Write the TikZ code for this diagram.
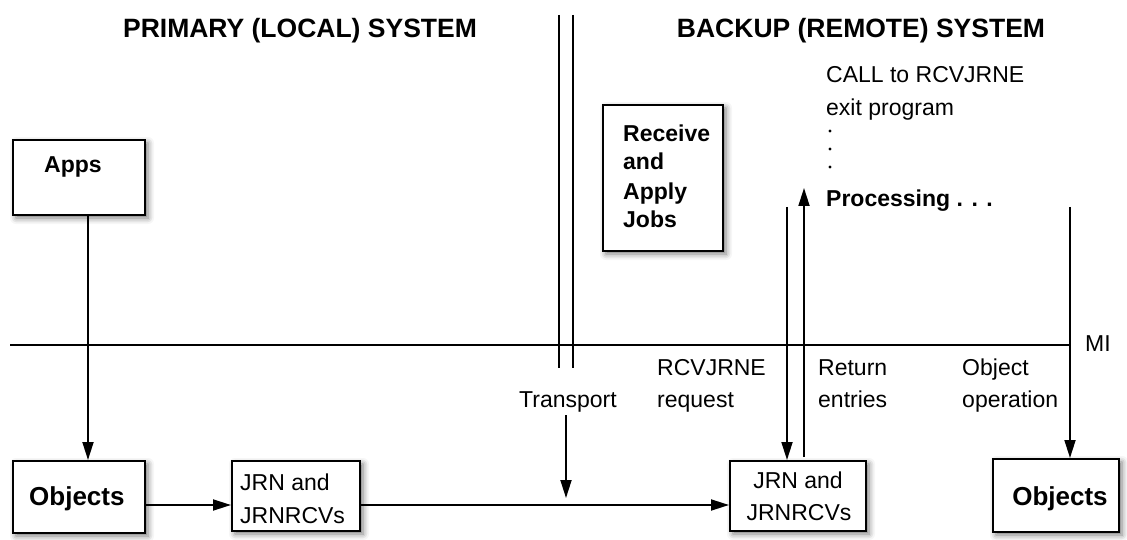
\documentclass[tikz,border=0pt]{standalone}
\usepackage{fontspec}
\setmainfont{Liberation Sans}
\usetikzlibrary{arrows.meta,shadows.blur}
\begin{document}
\begin{tikzpicture}[x=1pt,y=-1pt,
 box/.style={draw=black,line width=2pt,fill=white,inner sep=0pt,
   blur shadow={shadow xshift=3pt,shadow yshift=-3pt,shadow blur radius=6pt,shadow opacity=55}},
 conn/.style={line width=1.8pt,-{Triangle[length=18pt,width=11pt]}},
 plainline/.style={line width=1.8pt},
 lbl/.style={font=\fontsize{23}{32}\selectfont,inner sep=0pt},
 blbl/.style={font=\fontsize{23}{32}\selectfont\bfseries,inner sep=0pt},
 bigb/.style={font=\fontsize{26}{32}\selectfont\bfseries,inner sep=0pt},
 ttl/.style={font=\fontsize{26.5}{30}\selectfont\bfseries,inner sep=0pt}]
\useasboundingbox (0,0) rectangle (1127,540);
% titles
\node[ttl,anchor=base] (t1) at (300,38) {PRIMARY (LOCAL) SYSTEM};
\node[ttl,anchor=base] (t2) at (861,38) {BACKUP (REMOTE) SYSTEM};
% double vertical line
\coordinate (d1t) at (559,15); \coordinate (d1b) at (559,368);
\coordinate (d2t) at (573,15); \coordinate (d2b) at (573,368);
\draw[plainline] (d1t) -- (d1b);
\draw[plainline] (d2t) -- (d2b);
% MI line
\coordinate (mil) at (10,345); \coordinate (mir) at (1071,345);
\draw[plainline] (mil) -- (mir);
\node[lbl,anchor=base west] (mi) at (1085,351) {MI};
% boxes
\node[box,minimum width=132pt,minimum height=75pt] (apps) at (79,177.5) {};
\node[box,minimum width=132pt,minimum height=72pt] (objL) at (79,497) {};
\node[box,minimum width=128pt,minimum height=70pt] (jrnL) at (296,496) {};
\node[box,minimum width=120pt,minimum height=146pt] (recv) at (663,178) {};
\node[box,minimum width=136pt,minimum height=70pt] (jrnR) at (798,496) {};
\node[box,minimum width=126pt,minimum height=73pt] (objR) at (1056,495.5) {};
% box texts
\node[blbl,anchor=base west] (appsT) at (44,173) {Apps};
\node[bigb,anchor=base west] (objLT) at (29,505) {Objects};
\node[lbl,anchor=base west] (jrnL1) at (240,490) {JRN and};
\node[lbl,anchor=base west] (jrnL2) at (240,523) {JRNRCVs};
\node[blbl,anchor=base west] (rv1) at (623,142) {Receive};
\node[blbl,anchor=base west] (rv2) at (623,170) {and};
\node[blbl,anchor=base west] (rv3) at (623,200) {Apply};
\node[blbl,anchor=base west] (rv4) at (623,228) {Jobs};
\node[lbl,anchor=base] (jrnR1) at (798,488) {JRN and};
\node[lbl,anchor=base] (jrnR2) at (799,520) {JRNRCVs};
\node[bigb,anchor=base] (objRT) at (1060,505) {Objects};
% call text
\node[lbl,anchor=base west] (c1) at (826,83) {CALL to RCVJRNE};
\node[lbl,anchor=base west] (c2) at (826,116) {exit program};
\coordinate (dt1) at (830,131); \coordinate (dt2) at (830,149); \coordinate (dt3) at (830,167);
\fill (dt1) circle (1.6pt);
\fill (dt2) circle (1.6pt);
\fill (dt3) circle (1.6pt);
\node[blbl,anchor=base west] (c6) at (826,207) {Processing . . .};
% labels
\node[lbl,anchor=base west] (rq1) at (657,375) {RCVJRNE};
\node[lbl,anchor=base west] (rq2) at (657,407) {request};
\node[lbl,anchor=base west] (re1) at (818,375) {Return};
\node[lbl,anchor=base west] (re2) at (818,407) {entries};
\node[lbl,anchor=base west] (oo1) at (962,375) {Object};
\node[lbl,anchor=base west] (oo2) at (962,407) {operation};
\node[lbl,anchor=base west] (tp) at (519,407) {Transport};
% connectors
\coordinate (ax) at (88,0);
\coordinate (hy) at (0,505);
\draw[conn] (apps.south -| ax) -- (objL.north -| ax);
\draw[conn] (objL.east |- hy) -- (jrnL.west |- hy);
\draw[conn] (jrnL.east |- hy) -- (jrnR.west |- hy);
\coordinate (trs) at (566,415); \coordinate (tre) at (566,498);
\draw[conn] (trs) -- (tre);
\coordinate (rq) at (787,207);
\draw[conn] (rq) -- (jrnR.north -| rq);
\coordinate (rtb) at (804,457); \coordinate (rtt) at (804,188);
\draw[conn] (rtb) -- (rtt);
\coordinate (oo) at (1070,207);
\draw[conn] (oo) -- (objR.north -| oo);
\end{tikzpicture}
\end{document}
